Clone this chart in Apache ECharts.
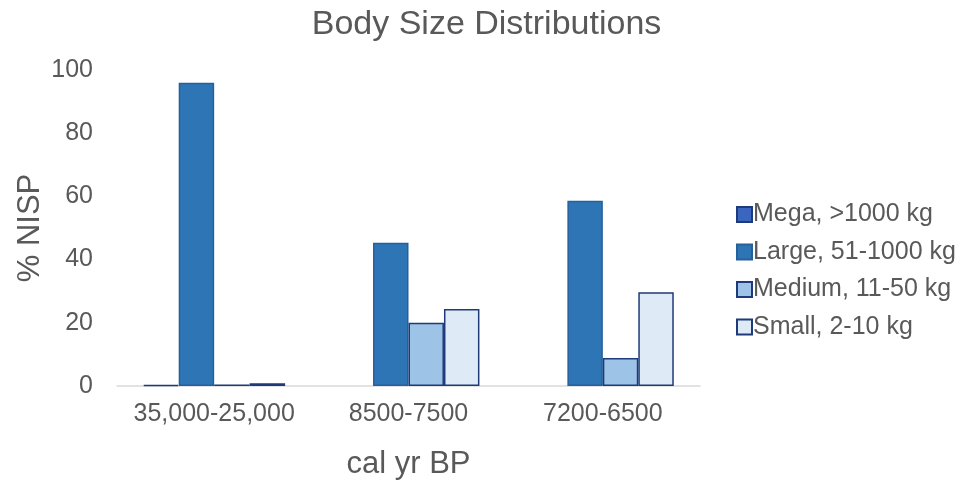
<!DOCTYPE html>
<html><head><meta charset="utf-8">
<script src="https://cdn.jsdelivr.net/npm/echarts@6/dist/echarts.min.js"></script>
<style>html,body{margin:0;padding:0;background:#fff}#c{width:973px;height:484px}</style>
</head><body><div id="c"></div>
<script>
const categories = ['35,000-25,000', '8500-7500', '7200-6500'];
const seriesNames = ['Mega, >1000 kg', 'Large, 51-1000 kg', 'Medium, 11-50 kg', 'Small, 2-10 kg'];
const mega = [0.3, 0, 0];
const large = [96, 45.3, 58.6];
const medium = [0.5, 20, 8.9];
const small = [0.9, 24.4, 29.7];
const yTicks = [0, 20, 40, 60, 80, 100];
const yAxisName = '% NISP';
const xAxisName = 'cal yr BP';
const chartTitle = 'Body Size Distributions';

const fills = ['#3a66c0', '#2e75b6', '#9dc3e6', '#deebf7'];
const borders = ['#1f3a7a', '#26609a', '#1f3a7a', '#1f3a7a'];
const values = [mega, large, medium, small];
const FONT = 'Liberation Sans, Arial, sans-serif';
const chart = echarts.init(document.getElementById('c'));
chart.setOption({
  animation: false,
  title: { text: chartTitle, left: 'center', top: 3,
    textStyle: { fontFamily: FONT, fontSize: 34, fontWeight: 'normal', color: '#595959' } },
  graphic: [{
    type: 'text', x: 30, y: 228, rotation: Math.PI / 2,
    style: { text: yAxisName, fontFamily: FONT, fontSize: 31, fill: '#595959',
      align: 'center', verticalAlign: 'middle' }
  }],
  legend: {
    orient: 'vertical', left: 731, top: 197, itemWidth: 15, itemHeight: 15, itemGap: 12.5,
    icon: 'rect',
    textStyle: { fontFamily: FONT, fontSize: 25, color: '#595959', padding: [0,0,0,-4] },
    data: seriesNames
  },
  grid: { left: 117, right: 273, top: 70, bottom: 98, containLabel: false, outerBoundsMode: 'none' },
  xAxis: {
    type: 'category', data: categories,
    name: xAxisName, nameLocation: 'middle', nameGap: 63,
    nameTextStyle: { fontFamily: FONT, fontSize: 31, color: '#595959' },
    axisLine: { lineStyle: { color: '#d9d9d9', width: 1.5 } },
    axisTick: { show: false },
    axisLabel: { fontFamily: FONT, fontSize: 25, color: '#595959', margin: 16, interval: 0 }
  },
  yAxis: {
    type: 'value', min: yTicks[0], max: yTicks[yTicks.length-1], interval: 20,
    axisLine: { show: false }, axisTick: { show: false }, splitLine: { show: false },
    axisLabel: { fontFamily: FONT, fontSize: 25, color: '#595959', margin: 24 }
  },
  series: seriesNames.map((n, i) => ({
    name: n, type: 'bar',
    data: values[i].map(v => v === 0 ? { value: v, itemStyle: { borderWidth: 0 } } : v),
    barGap: '0%', barCategoryGap: '27%',
    itemStyle: { color: fills[i], borderColor: borders[i], borderWidth: 1.5 }
  }))
});
</script></body></html>
